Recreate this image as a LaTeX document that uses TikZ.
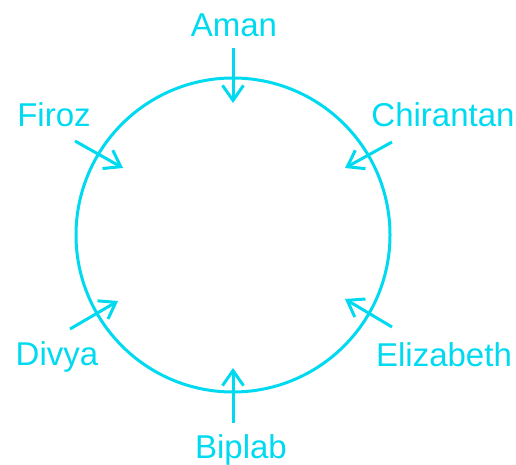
\documentclass[tikz,border=0pt]{standalone}
\usepackage{fontspec}
\setmainfont{Liberation Sans}
\usetikzlibrary{arrows.meta}
\definecolor{ring}{RGB}{0,218,240}
\tikzset{
  person/.style={anchor=base,inner sep=0pt,text=ring,font=\fontsize{33}{36}\selectfont},
  pointer/.style={draw=ring,line width=3pt,-{Straight Barb[length=15pt,width=21pt,line width=3pt]}}
}
\begin{document}
\begin{tikzpicture}[x=1pt,y=-1pt]
\useasboundingbox(0,0)rectangle(516,465);
%circle
\draw[ring,line width=3pt](233,235)coordinate(o)circle(157);
%names
\node[person](aman)at(234,37){Aman};
\node[person](firoz)at(54,127){Firoz};
\node[person](chir)at(443,127){Chirantan};
\node[person](divya)at(57,365){Divya};
\node[person](eliz)at(444,366){Elizabeth};
\node[person](biplab)at(241,458){Biplab};
%arrows
\draw[pointer](233,48)coordinate(aA)--(233,103)coordinate(aB);
\draw[pointer](75,141)coordinate(fA)--(123,168)coordinate(fB);
\draw[pointer](392,142)coordinate(cA)--(345,168)coordinate(cB);
\draw[pointer](70,329)coordinate(dA)--(118,301)coordinate(dB);
\draw[pointer](392,327)coordinate(eA)--(345,299)coordinate(eB);
\draw[pointer](233,423)coordinate(bA)--(233,368)coordinate(bB);
\end{tikzpicture}
\end{document}
